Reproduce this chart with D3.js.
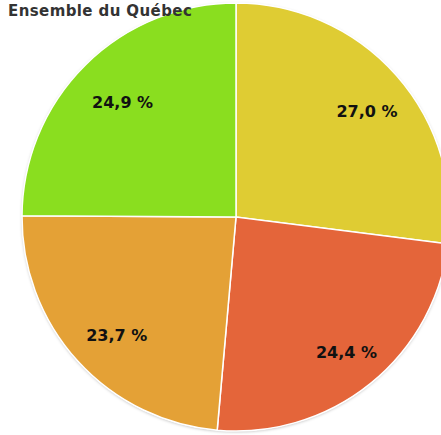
<!DOCTYPE html>
<html>
<head>
<meta charset="utf-8">
<script src="https://cdn.jsdelivr.net/npm/d3@7"></script>
<style>
  body { margin: 0; background: #fff; }
  svg { display: block; }
</style>
</head>
<body>
<div id="chart"></div>
<script>
const categories = ['Catégorie 1', 'Catégorie 2', 'Catégorie 3', 'Catégorie 4'];
const values = [27.0, 24.4, 23.7, 24.9];
const colors = ['#dfcc33', '#e4653a', '#e4a136', '#8ade1f'];
const title = 'Ensemble du Québec';

(function () {
  const width = 441,
    height = 435,
    cx = 236,
    cy = 217,
    radius = 214,
    labelRadius = 168;

  const data = categories.map((name, i) => ({ name, value: values[i], color: colors[i] }));

  const svg = d3
    .select('#chart')
    .append('svg')
    .attr('width', width)
    .attr('height', height);

  // soft shadow round the pie edge
  const defs = svg.append('defs');
  const filter = defs.append('filter').attr('id', 'shadow')
    .attr('x', '-10%').attr('y', '-10%').attr('width', '120%').attr('height', '120%');
  filter.append('feDropShadow')
    .attr('dx', 0).attr('dy', 1).attr('stdDeviation', 1.5)
    .attr('flood-color', '#000').attr('flood-opacity', 0.25);

  const pie = d3.pie().sort(null).value(d => d.value);
  const arc = d3.arc().innerRadius(0).outerRadius(radius);
  const labelArc = d3.arc().innerRadius(labelRadius).outerRadius(labelRadius);

  const chart = svg.append('g').attr('transform', `translate(${cx}, ${cy})`);

  chart
    .append('circle')
    .attr('r', radius)
    .attr('fill', '#fff')
    .attr('filter', 'url(#shadow)');

  chart
    .selectAll('.slice')
    .data(pie(data))
    .enter()
    .append('path')
    .attr('class', 'slice')
    .attr('d', arc)
    .attr('fill', d => d.data.color)
    .attr('stroke', '#fff')
    .attr('stroke-width', 1.5);

  // labels sit a little right and below the centroid
  chart
    .append('g')
    .attr('transform', 'translate(5, 5)')
    .selectAll('.label')
    .data(pie(data))
    .enter()
    .append('text')
    .attr('class', 'label')
    .attr('transform', d => `translate(${labelArc.centroid(d)})`)
    .attr('text-anchor', 'middle')
    .attr('dy', '0.35em')
    .attr('font-family', 'Verdana, "DejaVu Sans", sans-serif')
    .attr('font-weight', 'bold')
    .attr('font-size', 16)
    .attr('fill', '#111')
    .text(d => d3.format('.1f')(d.data.value).replace('.', ',') + ' %');

  svg
    .append('text')
    .attr('x', 8)
    .attr('y', 16)
    .attr('font-family', 'Verdana, "DejaVu Sans", sans-serif')
    .attr('font-weight', 'bold')
    .attr('font-size', 15)
    .attr('letter-spacing', 0.4)
    .attr('fill', '#333')
    .text(title);
})();
</script>
</body>
</html>
